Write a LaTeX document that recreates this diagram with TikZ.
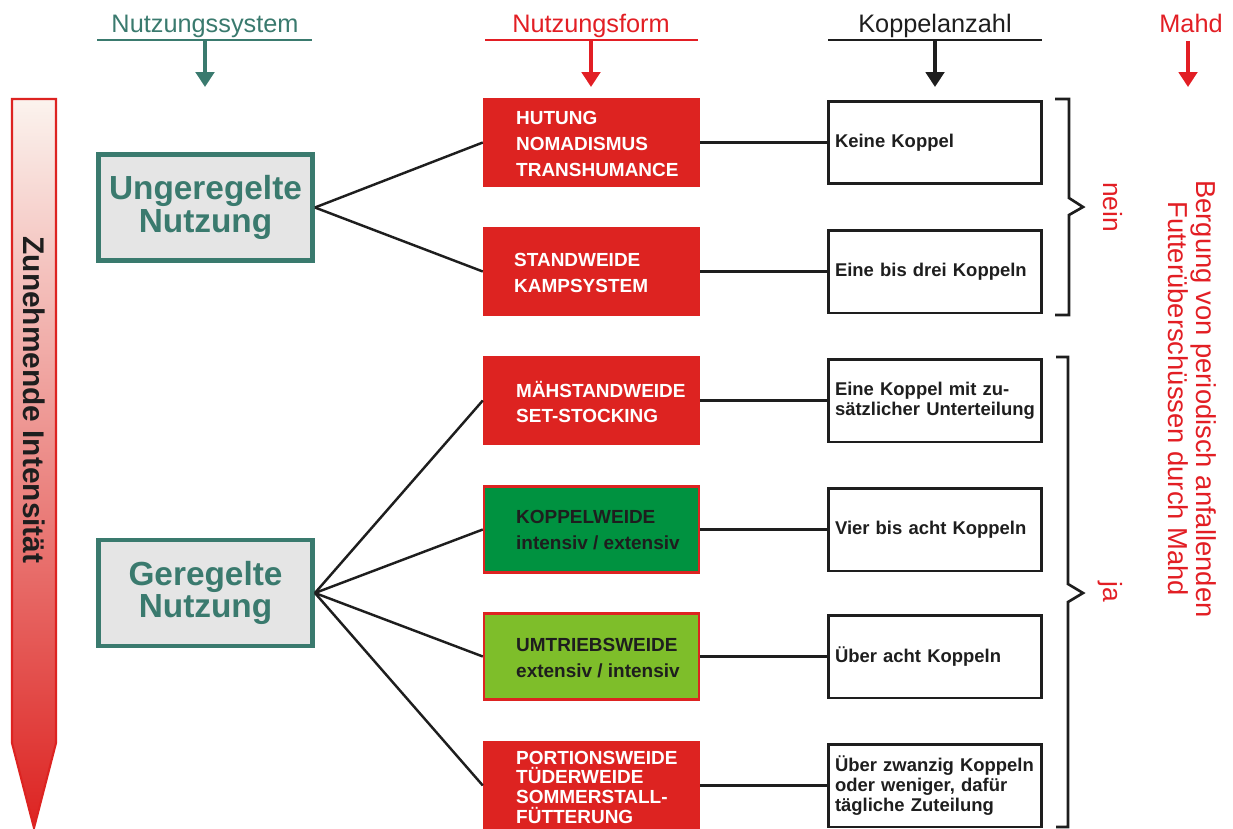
\documentclass[tikz,border=0pt]{standalone}
\usepackage{fontspec}
\setmainfont{Liberation Sans}
\usetikzlibrary{arrows.meta}

\definecolor{weidered}{RGB}{221,35,33}
\definecolor{headred}{RGB}{226,30,36}
\definecolor{darkgreen}{RGB}{0,146,64}
\definecolor{lightgreen}{RGB}{126,190,42}
\definecolor{sysgreen}{RGB}{58,122,110}
\definecolor{sysgrey}{RGB}{229,229,229}
\definecolor{inkblack}{RGB}{30,30,30}
\definecolor{paletop}{RGB}{251,243,238}
\definecolor{salmon}{RGB}{234,122,98}

\begin{document}
\begin{tikzpicture}[x=0.02cm,y=-0.02cm,
    hdtext/.style={anchor=base,font=\fontsize{14.4}{17}\selectfont},
    hdline/.style={line width=1.7pt},
    hdarrow/.style={line width=2pt,-{Triangle[length=0.3cm,width=0.37cm]}},
    sysbox/.style={draw=sysgreen,fill=sysgrey,line width=2.8pt,minimum width=4.28cm,
        minimum height=2.12cm,align=center,text=sysgreen,font=\bfseries\fontsize{19}{18.7}\selectfont},
    formbox/.style={draw=weidered,fill=weidered,line width=1.4pt,minimum width=4.3cm,
        minimum height=1.72cm,inner sep=0pt},
    formtext/.style={anchor=west,align=left,text=white,font=\bfseries\fontsize{10.8}{14.7}\selectfont},
    koppelbox/.style={draw=inkblack,fill=white,line width=1.7pt,minimum height=1.66cm,
        text width=4cm,inner xsep=0.13cm,align=left,text=inkblack,font=\bfseries\fontsize{10.5}{11.2}\selectfont},
    conn/.style={line width=1.4pt,inkblack},
    brace/.style={line width=1.5pt,inkblack},
    mahdtext/.style={rotate=-90,text=headred,font=\fontsize{15}{16}\selectfont}]
    \useasboundingbox (0,0) rectangle (1233,828);

    % headings
    \node[hdtext,text=sysgreen] (hsys) at (205,33) {Nutzungssystem};
    \draw[hdline,sysgreen] (97,40) -- (312,40);
    \coordinate (sysA) at (205,40);
    \coordinate (sysB) at (205,87);
    \draw[hdarrow,sysgreen] (sysA) -- (sysB);

    \node[hdtext,text=headred] (hform) at (591,33) {Nutzungsform};
    \draw[hdline,headred] (485,40) -- (698,40);
    \coordinate (formA) at (591,40);
    \coordinate (formB) at (591,87);
    \draw[hdarrow,headred] (formA) -- (formB);

    \node[hdtext,text=inkblack] (hkoppel) at (935,33) {Koppelanzahl};
    \draw[hdline,inkblack] (828,40) -- (1042,40);
    \coordinate (koppelA) at (935,40);
    \coordinate (koppelB) at (935,87);
    \draw[hdarrow,inkblack] (koppelA) -- (koppelB);

    \node[hdtext,text=headred] (hmahd) at (1191,33) {Mahd};
    \coordinate (mahdA) at (1188,41);
    \coordinate (mahdB) at (1188,87);
    \draw[hdarrow,headred] (mahdA) -- (mahdB);

    % intensity arrow
    \draw[weidered,line width=1.2pt,top color=paletop,middle color=salmon,bottom color=weidered]
        (12,99) -- (56,99) -- (56,743) -- (34,828) -- (12,743) -- cycle;
    \node[rotate=-90,text=inkblack,font=\bfseries\fontsize{17}{20}\selectfont] (intens) at (34,400)
        {Zunehmende Intensität};

    % systems
    \node[sysbox] (unger) at (205.5,207.5) {Ungeregelte\\Nutzung};
    \node[sysbox] (geregelt) at (205.5,593) {Geregelte\\Nutzung};

    % forms
    \node[formbox] (hut) at (591.5,142.5) {};
    \node[formbox] (stand) at (591.5,271.5) {};
    \node[formbox] (maeh) at (591.5,400.5) {};
    \node[formbox,fill=darkgreen] (koppelw) at (591.5,529.5) {};
    \node[formbox,fill=lightgreen] (umtrieb) at (591.5,656.5) {};
    \node[formbox] (portion) at (591.5,785.5) {};

    \node[formtext] (hut-t) at (510,144) {HUTUNG\\NOMADISMUS\\TRANSHUMANCE};
    \node[formtext] (stand-t) at (508,273) {STANDWEIDE\\KAMPSYSTEM};
    \node[formtext] (maeh-t) at (510,402) {MÄHSTANDWEIDE\\SET-STOCKING};
    \node[formtext,text=inkblack] (koppelw-t) at (510,530) {KOPPELWEIDE\\intensiv / extensiv};
    \node[formtext,text=inkblack] (umtrieb-t) at (510,658) {UMTRIEBSWEIDE\\extensiv / intensiv};
    \node[formtext,font=\bfseries\fontsize{10.8}{11.2}\selectfont] (portion-t) at (510,787)
        {PORTIONSWEIDE\\TÜDERWEIDE\\SOMMERSTALL-\\FÜTTERUNG};

    % number of paddocks
    \node[koppelbox] (k1) at (935,142.5) {Keine Koppel};
    \node[koppelbox] (k2) at (935,271.5) {Eine bis drei Koppeln};
    \node[koppelbox] (k3) at (935,400.5) {Eine Koppel mit zu-\\sätzlicher Unterteilung};
    \node[koppelbox] (k4) at (935,529.5) {Vier bis acht Koppeln};
    \node[koppelbox] (k5) at (935,656.5) {Über acht Koppeln};
    \node[koppelbox] (k6) at (935,785.5) {Über zwanzig Koppeln\\oder weniger, dafür\\tägliche Zuteilung};

    % connectors
    \draw[conn] (unger.east) -- (hut.west);
    \draw[conn] (unger.east) -- (stand.west);
    \draw[conn] (geregelt.east) -- (maeh.west);
    \draw[conn] (geregelt.east) -- (koppelw.west);
    \draw[conn] (geregelt.east) -- (umtrieb.west);
    \draw[conn] (geregelt.east) -- (portion.west);
    \draw[conn] (hut.east) -- (k1.west);
    \draw[conn] (stand.east) -- (k2.west);
    \draw[conn] (maeh.east) -- (k3.west);
    \draw[conn] (koppelw.east) -- (k4.west);
    \draw[conn] (umtrieb.east) -- (k5.west);
    \draw[conn] (portion.east) -- (k6.west);

    % braces
    \draw[brace] (1055,99) -- (1069,99) -- (1069,198) -- (1083,207) -- (1069,215) -- (1069,315) -- (1055,315);
    \draw[brace] (1056,357) -- (1068,357) -- (1068,584) -- (1083,593) -- (1068,602) -- (1068,827) -- (1056,827);
    \node[mahdtext] (nein) at (1113,207) {nein};
    \node[mahdtext] (ja) at (1110,592) {ja};
    \node[mahdtext,align=center,font=\fontsize{15.6}{16}\selectfont] (bergung) at (1192,399)
        {Bergung von periodisch anfallenden\\Futterüberschüssen durch Mahd};
\end{tikzpicture}
\end{document}
